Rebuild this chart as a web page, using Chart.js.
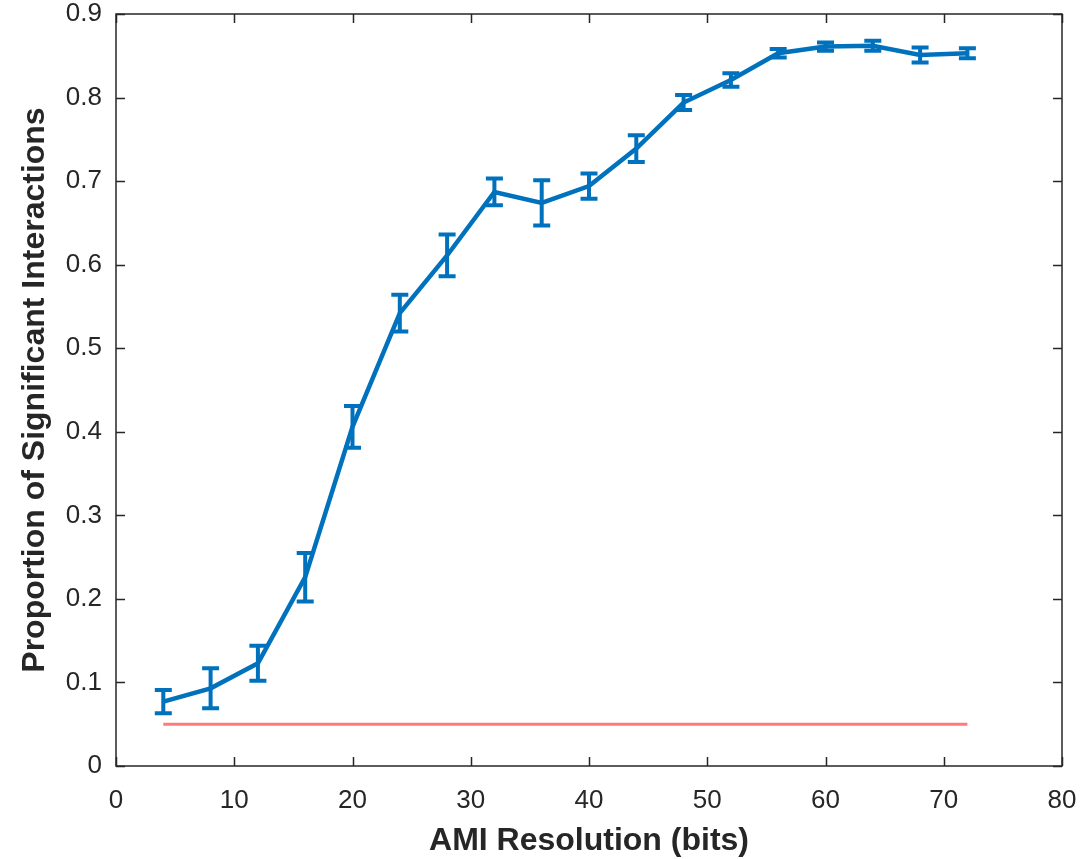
<!DOCTYPE html>
<html lang="en">
<head>
    <meta charset="UTF-8">
    <title>AMI Resolution</title>
    <script src="https://cdn.jsdelivr.net/npm/chart.js"></script>
    <style>
        html, body { margin: 0; padding: 0; background: #fff; }
        .wrap { width: 1082px; height: 859px; }
    </style>
</head>
<body>

<div class="wrap">
    <canvas id="amiChart" width="1082" height="859"></canvas>
</div>

<script>
    const resolutionBits = [4, 8, 12, 16, 20, 24, 28, 32, 36, 40, 44, 48, 52, 56, 60, 64, 68, 72];
    const meanProportion = [0.077, 0.093, 0.123, 0.226, 0.406, 0.542, 0.611, 0.687, 0.674, 0.694, 0.739, 0.794, 0.821, 0.853, 0.861, 0.862, 0.851, 0.853];
    const errProportion  = [0.014, 0.024, 0.021, 0.029, 0.025, 0.022, 0.025, 0.016, 0.027, 0.015, 0.016, 0.009, 0.008, 0.005, 0.005, 0.006, 0.009, 0.006];
    const chanceX = [4, 72];
    const chanceY = [0.05, 0.05];

    const xTicks = [0, 10, 20, 30, 40, 50, 60, 70, 80];
    const yTicks = [0, 0.1, 0.2, 0.3, 0.4, 0.5, 0.6, 0.7, 0.8, 0.9];

    const blue = '#0072BD';
    const axisColor = '#262626';
    const fontFamily = 'Liberation Sans, Arial, sans-serif';

    // error bars drawn from the data through the scales
    const errorBars = {
        id: 'errorBars',
        afterDatasetsDraw(chart) {
            const { ctx, scales: { x, y } } = chart;
            ctx.save();
            ctx.strokeStyle = blue;
            ctx.lineWidth = 4;
            ctx.lineCap = 'butt';
            resolutionBits.forEach((b, i) => {
                const px = x.getPixelForValue(b);
                const top = y.getPixelForValue(meanProportion[i] + errProportion[i]);
                const bot = y.getPixelForValue(meanProportion[i] - errProportion[i]);
                ctx.beginPath();
                ctx.moveTo(px, top); ctx.lineTo(px, bot);
                ctx.moveTo(px - 8.5, top); ctx.lineTo(px + 8.5, top);
                ctx.moveTo(px - 8.5, bot); ctx.lineTo(px + 8.5, bot);
                ctx.stroke();
            });
            ctx.restore();
        }
    };

    // matlab style box with inward ticks
    const boxAxes = {
        id: 'boxAxes',
        afterDraw(chart) {
            const { ctx, chartArea: a, scales: { x, y } } = chart;
            ctx.save();
            ctx.strokeStyle = axisColor;
            ctx.lineWidth = 1.5;
            ctx.strokeRect(a.left, a.top, a.right - a.left, a.bottom - a.top);
            ctx.beginPath();
            xTicks.forEach(v => {
                const px = Math.round(x.getPixelForValue(v)) + 0.5;
                ctx.moveTo(px, a.bottom); ctx.lineTo(px, a.bottom - 9);
                ctx.moveTo(px, a.top); ctx.lineTo(px, a.top + 9);
            });
            yTicks.forEach(v => {
                const py = Math.round(y.getPixelForValue(v)) + 0.5;
                ctx.moveTo(a.left, py); ctx.lineTo(a.left + 9, py);
                ctx.moveTo(a.right, py); ctx.lineTo(a.right - 9, py);
            });
            ctx.stroke();
            ctx.restore();
        }
    };

    const ctx = document.getElementById('amiChart').getContext('2d');
    const chart = new Chart(ctx, {
        type: 'line',
        data: {
            datasets: [{
                label: 'Proportion',
                data: resolutionBits.map((b, i) => ({ x: b, y: meanProportion[i] })),
                borderColor: blue,
                borderWidth: 4.5,
                pointRadius: 0,
                tension: 0
            }, {
                label: 'Chance',
                data: chanceX.map((b, i) => ({ x: b, y: chanceY[i] })),
                borderColor: '#FF7B7B',
                borderWidth: 3,
                pointRadius: 0
            }]
        },
        options: {
            responsive: false,
            animation: false,
            layout: { padding: { top: 14, right: 20, left: 0, bottom: 0 } },
            plugins: {
                legend: { display: false },
                tooltip: { enabled: false }
            },
            scales: {
                x: {
                    type: 'linear',
                    min: 0, max: 80,
                    afterBuildTicks: s => { s.ticks = xTicks.map(v => ({ value: v })); },
                    grid: { display: false, drawTicks: false },
                    border: { display: false },
                    ticks: {
                        color: axisColor,
                        font: { family: fontFamily, size: 26 },
                        padding: 19,
                        maxRotation: 0
                    },
                    title: {
                        display: true,
                        text: 'AMI Resolution (bits)',
                        color: axisColor,
                        font: { family: fontFamily, size: 32, weight: 'bold', lineHeight: 1.1 },
                        padding: { top: 0, bottom: 0 }
                    },
                    afterFit: s => {
                        s.height = 93;
                        s.paddingLeft = 0; s.paddingRight = 0;
                    }
                },
                y: {
                    type: 'linear',
                    min: 0, max: 0.9,
                    afterBuildTicks: s => { s.ticks = yTicks.map(v => ({ value: v })); },
                    grid: { display: false, drawTicks: false },
                    border: { display: false },
                    ticks: {
                        color: axisColor,
                        font: { family: fontFamily, size: 26, lineHeight: 1 },
                        padding: 14,
                        callback: v => v === 0 ? '0' : v.toFixed(1)
                    },
                    title: {
                        display: true,
                        text: 'Proportion of Significant Interactions',
                        color: axisColor,
                        font: { family: fontFamily, size: 32, weight: 'bold', lineHeight: 1.2 },
                        padding: { top: 16, bottom: 0 }
                    },
                    afterFit: s => {
                        s.width = 116;
                        s.paddingTop = 0; s.paddingBottom = 0;
                    }
                }
            }
        },
        plugins: [errorBars, boxAxes]
    });
</script>

</body>
</html>
